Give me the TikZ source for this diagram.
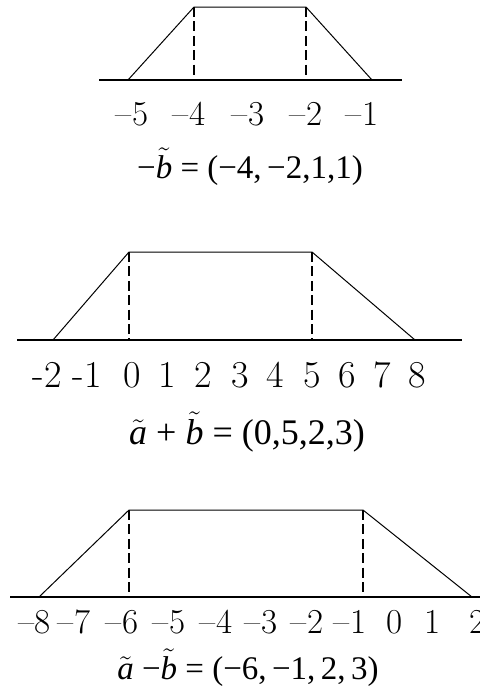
\documentclass[tikz,border=0pt]{standalone}
\usepackage{fontspec}
\newfontfamily\tnr{Liberation Serif}
\newcommand{\tl}[1]{\ensuremath{\tilde{\hbox{\itshape #1}}}}
\begin{document}
\begin{tikzpicture}[x=0.5pt,y=-0.5pt,
  axis/.style={line width=0.6pt},
  trap/.style={line width=0.5pt,line join=miter},
  guide/.style={line width=0.6pt,dash pattern=on 5pt off 2.2pt},
  tick/.style={inner sep=0pt,font=\fontsize{17.5}{20}\selectfont},
  tickbig/.style={inner sep=0pt,font=\fontsize{19}{22}\selectfont},
  formula/.style={inner sep=0pt,font=\tnr\fontsize{16.5}{20}\selectfont},
  formulabig/.style={inner sep=0pt,font=\tnr\fontsize{18}{22}\selectfont}]
\useasboundingbox (0,0) rectangle (480,691);
% ---------- panel 1 ----------
\coordinate (a1) at (99,80);  \coordinate (a2) at (402,80);
\coordinate (p1) at (128,80); \coordinate (p2) at (194,7);
\coordinate (p3) at (306,7);  \coordinate (p4) at (372,80);
\coordinate (q2) at (194,80); \coordinate (q3) at (306,80);
\draw[axis] (a1) -- (a2);
\draw[trap] (p1) -- (p2) -- (p3) -- (p4);
\draw[guide] (p2) -- (q2);
\draw[guide] (p3) -- (q3);
\foreach \x/\t [count=\i] in {132/5,189/4,248/3,306/2,362/1}
  \node[tick] (l1\i) at (\x,114) {--\t};
\node[formula] (f1) at (250,167) {−\tl{b} = (−4,\,−2,1,1)};
% ---------- panel 2 ----------
\coordinate (b1) at (17,340);  \coordinate (b2) at (462,340);
\coordinate (r1) at (53,340);  \coordinate (r2) at (129,252);
\coordinate (r3) at (312,252); \coordinate (r4) at (415,340);
\coordinate (s2) at (129,340); \coordinate (s3) at (312,340);
\draw[axis] (b1) -- (b2);
\draw[trap] (r1) -- (r2) -- (r3) -- (r4);
\draw[guide] (r2) -- (s2);
\draw[guide] (r3) -- (s3);
\foreach \x/\t [count=\i] in {47/-2,87/-1,132/0,167/1,203/2,240/3,275/4,312/5,347/6,382/7,417/8}
  \node[tickbig] (l2\i) at (\x,375) {\t};
\node[formulabig] (f2) at (247,432) {\tl{a} + \tl{b} = (0,5,2,3)};
% ---------- panel 3 ----------
\coordinate (c1) at (10,597);  \coordinate (c2) at (480,597);
\coordinate (t1) at (39,597);  \coordinate (t2) at (129,510);
\coordinate (t3) at (363,510); \coordinate (t4) at (472,597);
\coordinate (u2) at (129,597); \coordinate (u3) at (363,597);
\draw[axis] (c1) -- (c2);
\draw[trap] (t1) -- (t2) -- (t3) -- (t4);
\draw[guide] (t2) -- (u2);
\draw[guide] (t3) -- (u3);
\foreach \x/\t [count=\i] in {35/--8,74/--7,122/--6,169/--5,216/--4,261/--3,307/--2,350/--1,395/0,433/1,478/2}
  \node[tick] (l3\i) at (\x,622) {\t};
\node[formula] (f3) at (248,668) {\tl{a} −\tl{b} = (−6,\,−1,\,2,\,3)};
\end{tikzpicture}
\end{document}
